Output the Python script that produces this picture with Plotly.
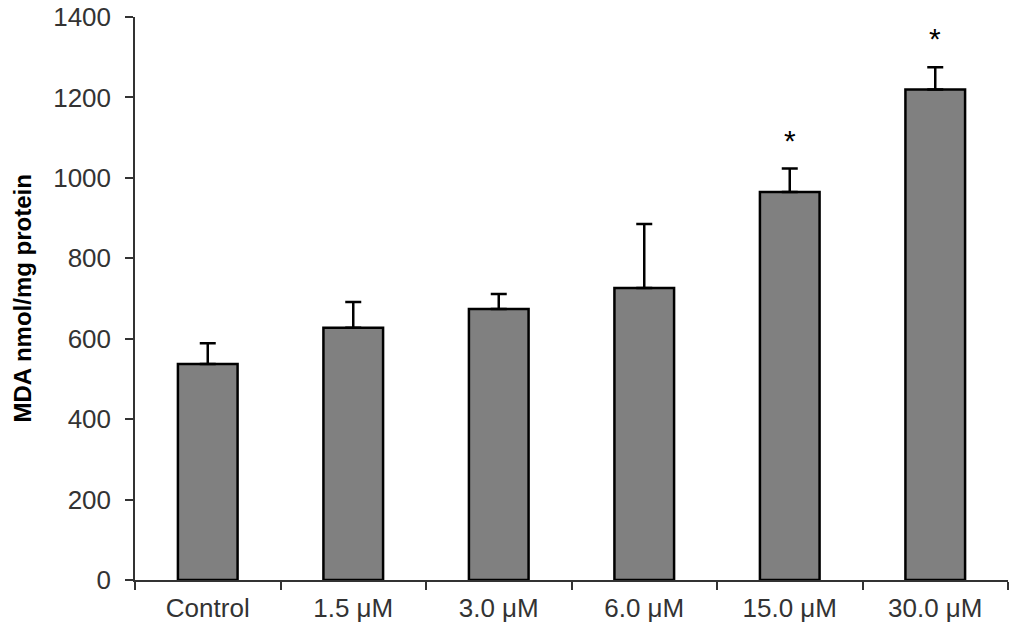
import plotly.graph_objects as go

# group labels and measured values (MDA, nmol/mg protein)
groups = ["Control", "1.5 μM", "3.0 μM", "6.0 μM", "15.0 μM", "30.0 μM"]
mda_mean = [537, 627, 674, 726, 965, 1220]
mda_sd = [52, 64, 37, 159, 58, 55]
signif = ["", "", "", "", "*", "*"]

FONT = "Liberation Sans, Arial"

fig = go.Figure()

fig.add_trace(go.Bar(
    x=groups,
    y=mda_mean,
    width=0.41,
    marker=dict(color="#808080", line=dict(color="#000000", width=2.5)),
    error_y=dict(type="data", array=mda_sd, symmetric=False, arrayminus=[0] * len(groups),
                 color="#000000", thickness=2.5, width=8),
    showlegend=False,
))

# significance stars above the error bars
for g, m, s, star in zip(groups, mda_mean, mda_sd, signif):
    if star:
        fig.add_annotation(x=g, y=m + s, text=star, showarrow=False,
                           yanchor="bottom", yshift=10,
                           font=dict(family=FONT, size=30, color="#000000"))

# y axis title as a rotated annotation so its position is fixed
fig.add_annotation(xref="paper", yref="paper", x=0, y=0.5, xshift=-113,
                   text="<b>MDA nmol/mg protein</b>", textangle=-90, showarrow=False,
                   xanchor="center", yanchor="middle",
                   font=dict(family=FONT, size=24, color="#000000"))

fig.update_layout(
    width=1024, height=636,
    margin=dict(l=127, r=24, t=9, b=64),
    plot_bgcolor="white", paper_bgcolor="white",
    font=dict(family=FONT, size=26, color="#333333"),
)
fig.update_xaxes(
    showline=True, linecolor="#333333", linewidth=1.5,
    ticks="outside", ticklen=8, tickcolor="#333333", tickwidth=1.5,
    tickson="boundaries", showgrid=False, automargin=False,
    ticklabelstandoff=4,
    tickfont=dict(size=26, color="#333333"),
)
fig.update_yaxes(
    range=[0, 1400], dtick=200,
    showline=True, linecolor="#333333", linewidth=1.5,
    ticks="outside", ticklen=8, tickcolor="#333333", tickwidth=1.5,
    showgrid=False, zeroline=False, automargin=False,
    ticklabelstandoff=9, ticklabeloverflow="allow",
    tickfont=dict(size=26, color="#333333"),
)

fig.write_html("out.html")
